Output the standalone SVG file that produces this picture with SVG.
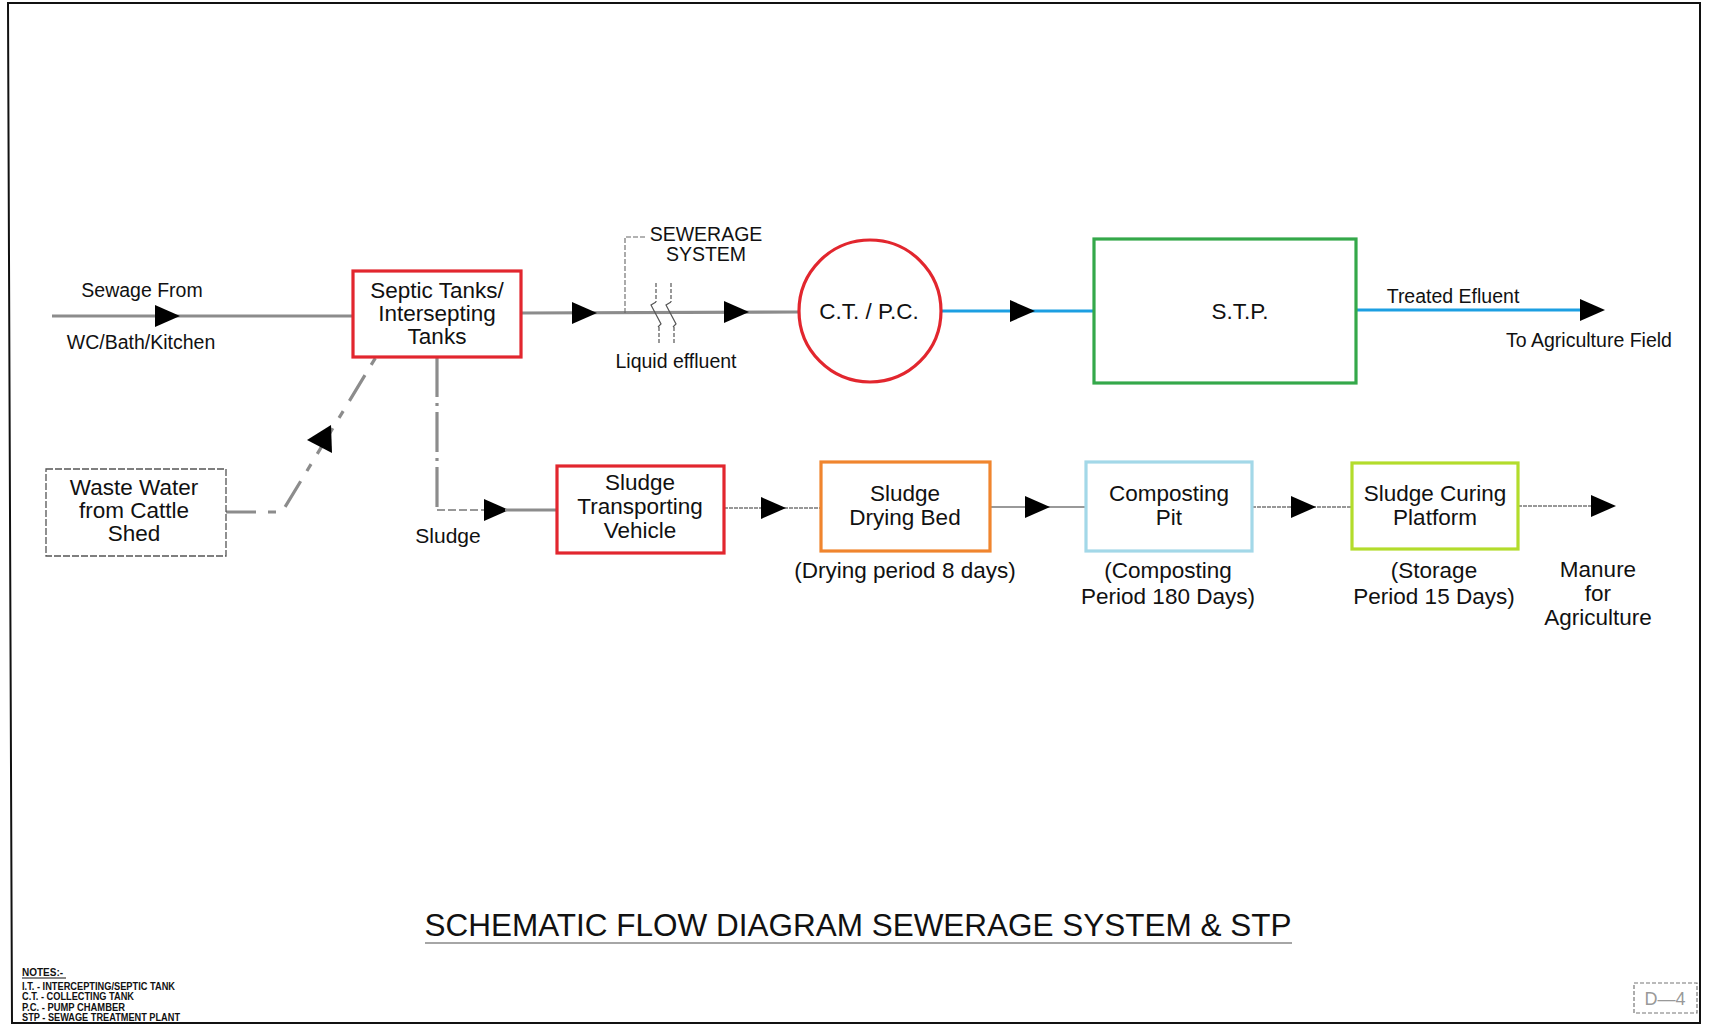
<svg xmlns="http://www.w3.org/2000/svg" xmlns:xlink="http://www.w3.org/1999/xlink" width="1712" height="1025" viewBox="0 0 1712 1025">
<defs>
<style>
.t{font-family:"Liberation Sans",Arial,sans-serif;fill:#111;text-anchor:middle}
.n{font-size:22.5px}
.s{font-size:19.5px}
.box{fill:none;stroke-width:3.2}
.gl{stroke:#8c8c8c;stroke-width:3.2;fill:none}
.bl{stroke:#1c9fe2;stroke-width:3.2;fill:none}
.thin{stroke:#777;stroke-width:1.6;fill:none}
.note{font-family:"Liberation Sans",Arial,sans-serif;font-size:10px;font-weight:bold;fill:#111}
</style>
<path id="ah" d="M-25,-11 L0,0 L-25,11 Z" fill="#000"/>
</defs>
<rect width="1712" height="1025" fill="#fff"/>
<g id="frame" fill="none" stroke="#111" stroke-width="2">
<path d="M8,3 L1700,3 L1700,1023 L12,1023 Z"/>
</g>

<g id="connectors">
<line class="gl" x1="52" y1="316" x2="353" y2="316"/>
<use xlink:href="#ah" x="180" y="316"/>
<line class="gl" x1="521" y1="313" x2="799" y2="312"/>
<use xlink:href="#ah" x="597" y="313"/>
<use xlink:href="#ah" x="749" y="312"/>
<path d="M625,313 L625,237 L645,237" stroke="#666" stroke-width="1.1" fill="none" stroke-dasharray="5 2"/>
<g stroke="#555" stroke-width="1.2" fill="none">
<path d="M656,283 L656,302" stroke-dasharray="4 2"/>
<path d="M656,302 L651,305 L661,324 L658,327"/>
<path d="M659,327 L659,345" stroke-dasharray="4 2"/>
<path d="M671,283 L671,302" stroke-dasharray="4 2"/>
<path d="M671,302 L666,305 L676,324 L673,327"/>
<path d="M674,327 L674,345" stroke-dasharray="4 2"/>
</g>
<line class="bl" x1="941" y1="311" x2="1094" y2="311"/>
<use xlink:href="#ah" x="1035" y="311"/>
<line class="bl" x1="1356" y1="310" x2="1600" y2="310"/>
<use xlink:href="#ah" x="1605" y="310"/>
<path class="gl" d="M226,512 L282,512 L376,357" stroke-dasharray="30 12 8 12"/>
<polygon points="307,440 331,425 332,453" fill="#000"/>
<path class="gl" d="M437,357 L437,510" stroke-dasharray="40 6 3 6"/>
<path class="thin" d="M437,510 L487,510" stroke-dasharray="8 3"/>
<use xlink:href="#ah" x="509" y="510"/>
<line class="gl" x1="505" y1="510" x2="557" y2="510"/>
<line class="thin" x1="724" y1="508" x2="821" y2="508" stroke-dasharray="4 1"/>
<use xlink:href="#ah" x="786" y="508"/>
<line class="thin" x1="990" y1="507" x2="1086" y2="507"/>
<use xlink:href="#ah" x="1050" y="507"/>
<line class="thin" x1="1252" y1="507" x2="1352" y2="507" stroke-dasharray="4 1"/>
<use xlink:href="#ah" x="1316" y="507"/>
<line class="thin" x1="1518" y1="506" x2="1600" y2="506" stroke-dasharray="4 1"/>
<use xlink:href="#ah" x="1616" y="506"/>
</g>

<g id="labels">
<text class="t s" x="142" y="297">Sewage From</text>
<text class="t s" x="141" y="349">WC/Bath/Kitchen</text>
<text class="t s" x="706" y="241">SEWERAGE</text>
<text class="t s" x="706" y="261">SYSTEM</text>
<text class="t s" x="676" y="368">Liquid effluent</text>
<text class="t s" x="1453" y="303">Treated Efluent</text>
<text class="t s" x="1589" y="347">To Agriculture Field</text>
<text class="t" x="448" y="543" font-size="21">Sludge</text>
<text class="t n" x="905" y="578">(Drying period 8 days)</text>
<text class="t n" x="1168" y="578">(Composting</text>
<text class="t n" x="1168" y="604">Period 180 Days)</text>
<text class="t n" x="1434" y="578">(Storage</text>
<text class="t n" x="1434" y="604">Period 15 Days)</text>
<text class="t n" x="1598" y="577">Manure</text>
<text class="t n" x="1598" y="601">for</text>
<text class="t n" x="1598" y="625">Agriculture</text>
</g>

<g id="septic">
<rect class="box" x="353" y="271" width="168" height="86" stroke="#e2262e"/>
<text class="t n" x="437" y="298">Septic Tanks/</text>
<text class="t n" x="437" y="321">Intersepting</text>
<text class="t n" x="437" y="344">Tanks</text>
</g>
<g id="ctpc">
<circle cx="870" cy="311" r="71" fill="none" stroke="#e2262e" stroke-width="3.2"/>
<text class="t n" x="869" y="319">C.T. / P.C.</text>
</g>
<g id="stp">
<rect class="box" x="1094" y="239" width="262" height="144" stroke="#34a84a"/>
<text class="t n" x="1240" y="319">S.T.P.</text>
</g>
<g id="wastewater">
<rect x="46" y="469" width="180" height="87" fill="none" stroke="#555" stroke-width="1.3" stroke-dasharray="7 2"/>
<text class="t n" x="134" y="495">Waste Water</text>
<text class="t n" x="134" y="518">from Cattle</text>
<text class="t n" x="134" y="541">Shed</text>
</g>
<g id="stv">
<rect class="box" x="557" y="466" width="167" height="87" stroke="#e2262e"/>
<text class="t n" x="640" y="490">Sludge</text>
<text class="t n" x="640" y="514">Transporting</text>
<text class="t n" x="640" y="538">Vehicle</text>
</g>
<g id="dryingbed">
<rect class="box" x="821" y="462" width="169" height="89" stroke="#f0852e"/>
<text class="t n" x="905" y="501">Sludge</text>
<text class="t n" x="905" y="525">Drying Bed</text>
</g>
<g id="compostingpit">
<rect class="box" x="1086" y="462" width="166" height="89" stroke="#a3d8e8"/>
<text class="t n" x="1169" y="501">Composting</text>
<text class="t n" x="1169" y="525">Pit</text>
</g>
<g id="curing">
<rect class="box" x="1352" y="463" width="166" height="86" stroke="#b3dc2c"/>
<text class="t n" x="1435" y="501">Sludge Curing</text>
<text class="t n" x="1435" y="525">Platform</text>
</g>

<g id="title">
<text class="t" x="858" y="936" font-size="31" textLength="867" lengthAdjust="spacingAndGlyphs">SCHEMATIC FLOW DIAGRAM SEWERAGE SYSTEM &amp; STP</text>
<line x1="425" y1="943" x2="1292" y2="943" stroke="#888" stroke-width="1.5"/>
</g>

<g id="notes">
<text class="note" x="22" y="976" font-size="10.5px">NOTES:-</text>
<line x1="22" y1="978" x2="66" y2="978" stroke="#111" stroke-width="1"/>
<text class="note" x="22" y="990" textLength="153" lengthAdjust="spacingAndGlyphs">I.T. - INTERCEPTING/SEPTIC TANK</text>
<text class="note" x="22" y="1000" textLength="112" lengthAdjust="spacingAndGlyphs">C.T. - COLLECTING TANK</text>
<text class="note" x="22" y="1011" textLength="103" lengthAdjust="spacingAndGlyphs">P.C. - PUMP CHAMBER</text>
<text class="note" x="22" y="1021" textLength="158" lengthAdjust="spacingAndGlyphs">STP - SEWAGE TREATMENT PLANT</text>
</g>

<g id="drawingno">
<rect x="1634" y="983" width="63" height="30" fill="none" stroke="#777" stroke-width="1.2" stroke-dasharray="4 2"/>
<text class="t" x="1665" y="1005" font-size="18" style="fill:#999">D—4</text>
</g>
</svg>
